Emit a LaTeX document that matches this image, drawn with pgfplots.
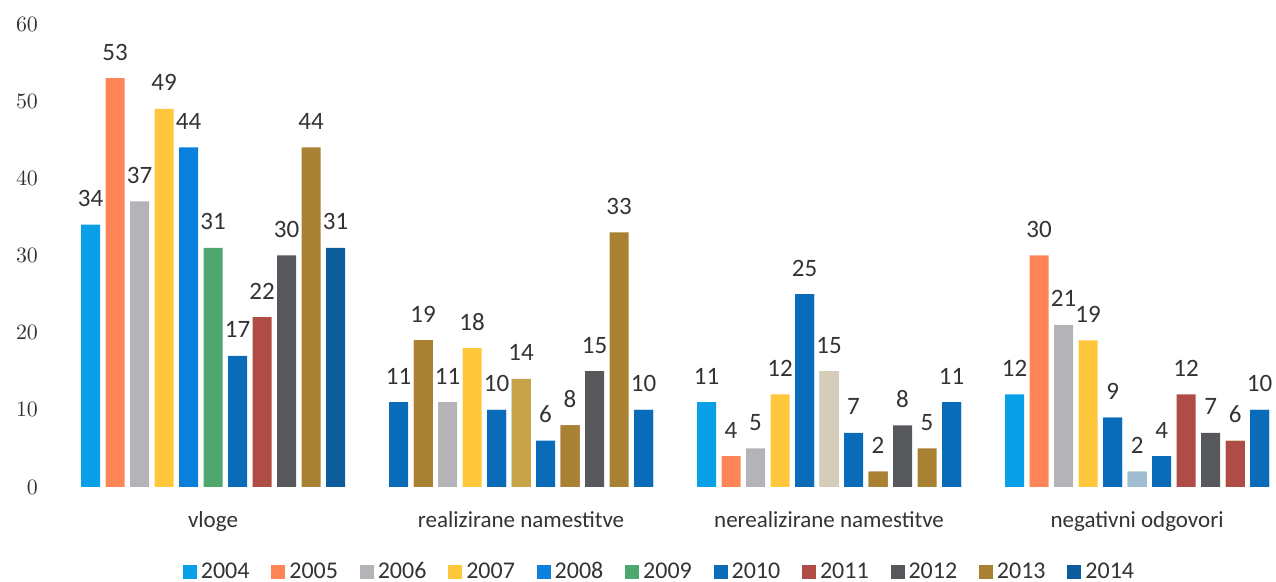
\documentclass[border=0pt]{standalone}
\usepackage{pgfplots}
\pgfplotsset{compat=1.18}
\usepackage{fontspec}
\setmainfont{Carlito}

\definecolor{c04}{HTML}{0AA0E8}
\definecolor{c05}{HTML}{FF8457}
\definecolor{c06}{HTML}{B4B4B8}
\definecolor{c07}{HTML}{FFC83C}
\definecolor{c08}{HTML}{0A80DC}
\definecolor{c09}{HTML}{4EA86E}
\definecolor{c10}{HTML}{0A6CB8}
\definecolor{c11}{HTML}{B04C46}
\definecolor{c12}{HTML}{56585C}
\definecolor{c13}{HTML}{A88232}
\definecolor{c14}{HTML}{0C5C9E}
\definecolor{txt}{HTML}{333333}

\begin{document}
\begin{tikzpicture}[x=1pt,y=1pt]
\useasboundingbox (-22.5,-47.5) rectangle (615.5,243.5);
\begin{axis}[
  at={(0,0)}, anchor=south west,
  scale only axis, width=615.5pt, height=231.5pt,
  xmin=-0.5455, xmax=3.451, ymin=0, ymax=60,
  ybar, bar width=9.5pt,
  axis line style={draw=none}, major tick length=0pt,
  ytick={0,10,...,60},
  yticklabel style={text=txt, font=\fontsize{11}{13}\selectfont},
  xtick={0,1,2,3},
  xticklabels={vloge, realizirane namestitve, nerealizirane namestitve, negativni odgovori},
  xticklabel style={text=txt, font=\fontsize{11.5}{13}\selectfont, anchor=base, yshift=-20.5pt},
  clip=false,
  every node near coord/.append style={text=txt, font=\fontsize{12.5}{14}\selectfont,
    anchor=base, yshift=9pt, /pgf/number format/assume math mode=true},
  legend columns=11,
  legend style={at={(0.5,-0.184)}, anchor=center, draw=none, fill=none,
    font=\fontsize{12}{14}\selectfont, text=txt,
    /tikz/every even column/.append style={column sep=8.9pt}},
  legend image code/.code={\fill[#1] (0pt,-3.5pt) rectangle (7pt,3.5pt);},
]
% series (legend colours)
\addplot[fill=c04, draw=none, bar shift=-61.25pt, nodes near coords] coordinates {(0,34) (1,11) (2,11) (3,12)};
\addplot[fill=c05, draw=none, bar shift=-49pt, nodes near coords] coordinates {(0,53) (1,19) (2,4) (3,30)};
\addplot[fill=c06, draw=none, bar shift=-36.75pt, nodes near coords] coordinates {(0,37) (1,11) (2,5) (3,21)};
\addplot[fill=c07, draw=none, bar shift=-24.5pt, nodes near coords] coordinates {(0,49) (1,18) (2,12) (3,19)};
\addplot[fill=c08, draw=none, bar shift=-12.25pt, nodes near coords] coordinates {(0,44) (1,10) (2,25) (3,9)};
\addplot[fill=c09, draw=none, bar shift=0pt, nodes near coords] coordinates {(0,31) (1,14) (2,15) (3,2)};
\addplot[fill=c10, draw=none, bar shift=12.25pt, nodes near coords] coordinates {(0,17) (1,6) (2,7) (3,4)};
\addplot[fill=c11, draw=none, bar shift=24.5pt, nodes near coords] coordinates {(0,22) (1,8) (2,2) (3,12)};
\addplot[fill=c12, draw=none, bar shift=36.75pt, nodes near coords] coordinates {(0,30) (1,15) (2,8) (3,7)};
\addplot[fill=c13, draw=none, bar shift=49pt, nodes near coords] coordinates {(0,44) (1,33) (2,5) (3,6)};
\addplot[fill=c14, draw=none, bar shift=61.25pt, nodes near coords] coordinates {(0,31) (1,10) (2,11) (3,10)};
\legend{2004,2005,2006,2007,2008,2009,2010,2011,2012,2013,2014}
% bars that are printed in other colours in the reference
\addplot[forget plot, fill=c10, draw=none, bar shift=-61.25pt] coordinates {(1,11)};
\addplot[forget plot, fill=c13, draw=none, bar shift=-49pt] coordinates {(1,19)};
\addplot[forget plot, fill=c10, draw=none, bar shift=-12.25pt] coordinates {(1,10) (2,25) (3,9)};
\addplot[forget plot, fill={rgb,255:red,200;green,164;blue,72}, draw=none, bar shift=0pt] coordinates {(1,14)};
\addplot[forget plot, fill={rgb,255:red,214;green,204;blue,186}, draw=none, bar shift=0pt] coordinates {(2,15)};
\addplot[forget plot, fill={rgb,255:red,160;green,188;blue,208}, draw=none, bar shift=0pt] coordinates {(3,2)};
\addplot[forget plot, fill=c13, draw=none, bar shift=24.5pt] coordinates {(1,8) (2,2)};
\addplot[forget plot, fill=c11, draw=none, bar shift=49pt] coordinates {(3,6)};
\addplot[forget plot, fill=c10, draw=none, bar shift=61.25pt] coordinates {(1,10) (2,11) (3,10)};
\end{axis}
\end{tikzpicture}
\end{document}
